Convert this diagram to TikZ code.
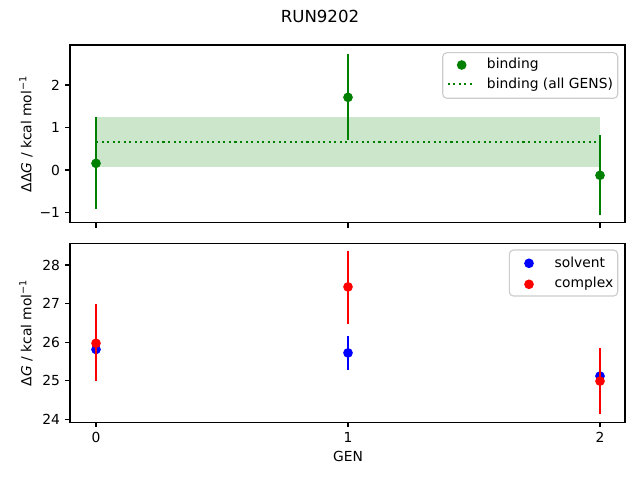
\documentclass[tikz,border=0pt]{standalone}
\usepackage{fontspec}
\setmainfont{DejaVu Sans}
\usetikzlibrary{positioning}
\definecolor{mplgreen}{RGB}{0,128,0}
\definecolor{legendedge}{gray}{0.8}

\begin{document}
\begin{tikzpicture}[x=0.01in, y=-0.01in, font=\fontsize{10}{12}\selectfont,
  spine/.style={line width=0.8pt},
  tickmark/.style={line width=0.8pt},
  errbar/.style={line width=1.5pt},
  dot/.style={circle, inner sep=0pt, minimum size=7pt},
  legendbox/.style={draw=legendedge, fill=white, fill opacity=0.8, rounded corners=3pt, line width=0.8pt},
  ticklabel/.style={inner sep=0pt}]
\useasboundingbox (0,0) rectangle (640,480);

\node (title) at (320,16) {\fontsize{12}{14}\selectfont RUN9202};

% upper panel: binding
\begin{scope}[shift={(96,170)}, xscale=252, yscale=-42.5]
\fill[mplgreen, opacity=0.2] (0,0.078) rectangle (2,1.24);
\draw[mplgreen, line width=1.5pt, dash pattern=on 1.5pt off 2.5pt] (0,0.667) -- (2,0.667);
\draw[errbar, mplgreen] (0,-0.92) -- (0,1.237) (1,0.705) -- (1,2.735) (2,-1.05) -- (2,0.816);
\node[dot, fill=mplgreen] (bind0) at (0,0.157) {};
\node[dot, fill=mplgreen] (bind1) at (1,1.71) {};
\node[dot, fill=mplgreen] (bind2) at (2,-0.125) {};
\end{scope}
\draw[spine] (70,45) rectangle (625,222.7);
\foreach \x in {96,348,600} \draw[tickmark] (\x,222.7) -- (\x,227.6);
\foreach \y/\lab in {85/2,127.7/1,170/0,212.7/−1} {
  \draw[tickmark] (70,\y) -- (65.1,\y);
  \node[ticklabel, anchor=east] (ty\lab) at (60.2,\y) {\lab};
}
\node[rotate=90] (toplabel) at (26,133.9) {ΔΔ\textit{G} / kcal mol\textsuperscript{−1}};

\draw[legendbox] (442.7,52.7) rectangle (617.7,98.3);
\node[dot, fill=mplgreen] (legbind) at (461.7,65) {};
\draw[mplgreen, line width=1.5pt, dash pattern=on 1.5pt off 2.5pt] (447.7,84) coordinate (legall0) -- (475,84) coordinate (legall1);
\node[anchor=base west, inner sep=0pt] (legbindtxt) at (486.7,69) {binding};
\node[anchor=base west, inner sep=0pt] (legalltxt) at (486.7,88.5) {binding (all GENS)};

% lower panel: solvent and complex
\begin{scope}[shift={(96,1345.7)}, xscale=252, yscale=-38.6]
\draw[errbar, blue] (0,25.77) -- (0,25.85) (1,25.29) -- (1,26.16) (2,25.08) -- (2,25.16);
\node[dot, fill=blue] (solv0) at (0,25.81) {};
\node[dot, fill=blue] (solv1) at (1,25.72) {};
\node[dot, fill=blue] (solv2) at (2,25.12) {};
\draw[errbar, red] (0,25.0) -- (0,26.99) (1,26.47) -- (1,28.37) (2,24.15) -- (2,25.84);
\node[dot, fill=red] (cplx0) at (0,25.97) {};
\node[dot, fill=red] (cplx1) at (1,27.43) {};
\node[dot, fill=red] (cplx2) at (2,24.99) {};
\end{scope}
\draw[spine] (70,243.3) rectangle (625,422.3);
\foreach \x/\lab in {96/0,348/1,600/2} {
  \draw[tickmark] (\x,422.3) -- (\x,427.2);
  \node[ticklabel, anchor=north] (tx\lab) at (\x,432.1) {\lab};
}
\foreach \y/\lab in {265/28,303.3/27,342.3/26,380.7/25,419.3/24} {
  \draw[tickmark] (70,\y) -- (65.1,\y);
  \node[ticklabel, anchor=east] (tb\lab) at (60.2,\y) {\lab};
}
\node[rotate=90] (botlabel) at (26,332.8) {Δ\textit{G} / kcal mol\textsuperscript{−1}};
\node (xlabel) at (348,456.7) {GEN};

\draw[legendbox] (509.3,250) rectangle (617.7,296);
\node[dot, fill=blue] (legsolv) at (529,263.3) {};
\node[dot, fill=red] (legcplx) at (529,284.3) {};
\node[anchor=base west, inner sep=0pt] (legsolvtxt) at (554.3,267.3) {solvent};
\node[anchor=base west, inner sep=0pt] (legcplxtxt) at (554.3,287.7) {complex};
\end{tikzpicture}
\end{document}
